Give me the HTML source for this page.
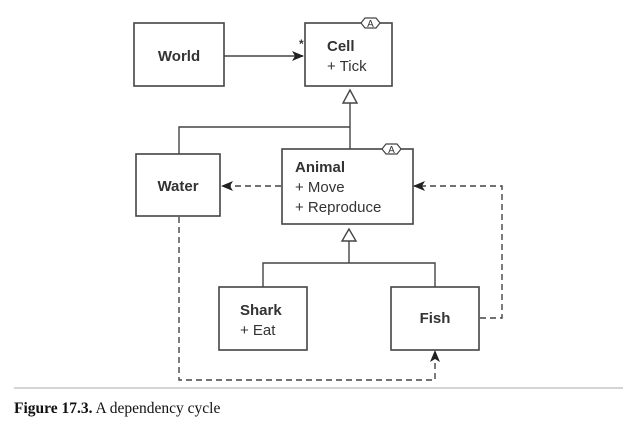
<!DOCTYPE html>
<html><head><style>
body{margin:0;background:#fff;width:633px;height:428px;overflow:hidden}
svg text{font-family:"Liberation Sans",sans-serif;fill:#333}
</style></head><body>
<svg width="633" height="428" xmlns="http://www.w3.org/2000/svg">
<defs>
<marker id="ah" markerWidth="12" markerHeight="10" refX="11" refY="5" orient="auto" markerUnits="userSpaceOnUse">
<path d="M0,0 L12,5 L0,10 L3,5 Z" fill="#222"/></marker>
</defs>
<g stroke="#444" stroke-width="1.6" fill="#fff">
<rect x="134" y="23" width="90" height="63"/>
<rect x="305" y="23" width="87" height="63"/>
<rect x="136" y="154" width="84" height="62"/>
<rect x="282" y="149" width="131" height="75"/>
<rect x="219" y="287" width="88" height="63"/>
<rect x="391" y="287" width="88" height="63"/>
</g>
<g stroke="#444" stroke-width="1.4" fill="none">
<line x1="224" y1="56" x2="303" y2="56" marker-end="url(#ah)"/>
<polyline points="350,103 350,149"/>
<polyline points="179,154 179,127 350,127"/>
<polygon points="350,90 343,103 357,103" fill="#fff"/>
<polyline points="349,241 349,263"/>
<polyline points="263,287 263,263 435,263 435,287"/>
<polygon points="349,229 342,241 356,241" fill="#fff"/>
</g>
<g stroke="#444" stroke-width="1.4" fill="none" stroke-dasharray="6,4">
<line x1="281" y1="186" x2="222" y2="186" marker-end="url(#ah)"/>
<polyline points="480,318 502,318 502,186 414,186" marker-end="url(#ah)"/>
<polyline points="179,217 179,380 435,380 435,351" marker-end="url(#ah)"/>
</g>
<g stroke="#444" stroke-width="1.2" fill="#fff">
<polygon points="361,23 365,18 376,18 380,23 376,28 365,28"/>
<polygon points="382,149 386,144 397,144 401,149 397,154 386,154"/>
</g>
<text x="370.5" y="27" font-size="10" text-anchor="middle">A</text>
<text x="391.5" y="153" font-size="10" text-anchor="middle">A</text>
<text x="299" y="48" font-size="12" font-weight="bold">*</text>
<g font-size="15">
<text x="179" y="61" text-anchor="middle" font-weight="bold">World</text>
<text x="327" y="51" font-weight="bold">Cell</text>
<text x="327" y="71">+ Tick</text>
<text x="178" y="191" text-anchor="middle" font-weight="bold">Water</text>
<text x="295" y="172" font-weight="bold">Animal</text>
<text x="295" y="192">+ Move</text>
<text x="295" y="212">+ Reproduce</text>
<text x="240" y="315" font-weight="bold">Shark</text>
<text x="240" y="335">+ Eat</text>
<text x="435" y="323" text-anchor="middle" font-weight="bold">Fish</text>
</g>
<line x1="14" y1="388" x2="623" y2="388" stroke="#aaa" stroke-width="1"/>
<text x="14" y="413" font-size="15.5" style="font-family:'Liberation Serif',serif;fill:#111"><tspan font-weight="bold">Figure 17.3.</tspan> A dependency cycle</text>
</svg>
</body></html>
